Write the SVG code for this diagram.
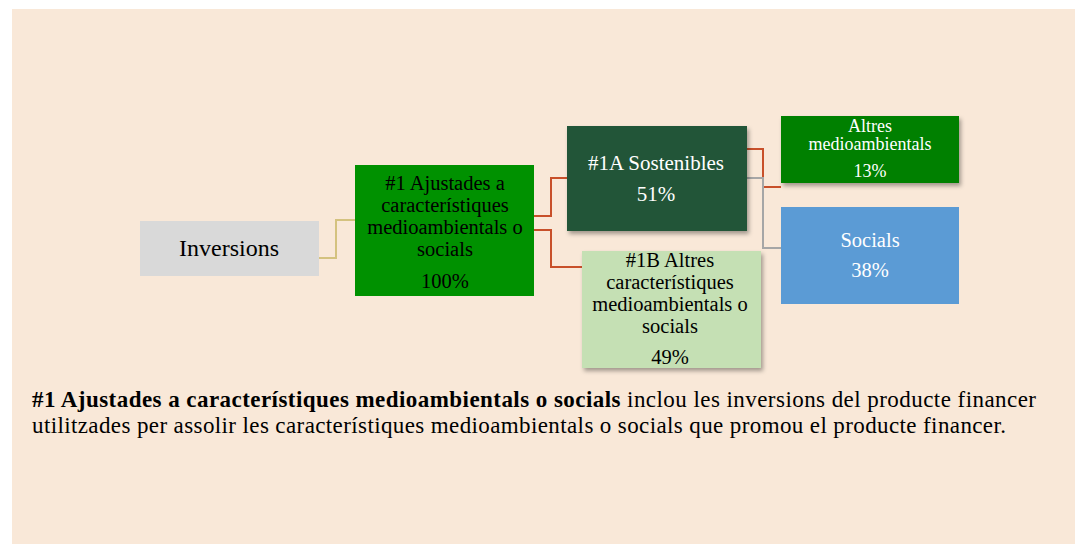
<svg xmlns="http://www.w3.org/2000/svg" width="1075" height="544" viewBox="0 0 1075 544">
<defs>
<filter id="sh" x="-10%" y="-10%" width="125%" height="130%">
<feDropShadow dx="2" dy="3" stdDeviation="2" flood-color="#000" flood-opacity="0.35"/>
</filter>
<style>
text{font-family:"Liberation Serif","Times New Roman",serif;text-anchor:middle}
.b{fill:#000}
.w{fill:#fff}
.c{fill:none;stroke-width:2}
.cap{text-anchor:start;font-size:23px}
</style>
</defs>
<rect x="12" y="9" width="1063" height="535" fill="#f9e8d8"/>
<g id="connectors">
<polyline class="c" stroke="#d4c27f" points="319,258 336,258 336,220 355,220"/>
<polyline class="c" stroke="#c8502a" points="534,216 551,216 551,178 567,178"/>
<polyline class="c" stroke="#c8502a" points="534,230 551,230 551,267 582,267"/>
<polyline class="c" stroke="#c8502a" points="747,149 763,149 763,187 781,187"/>
<polyline class="c" stroke="#a6a6a6" points="747,178 763,178 763,248 781,248"/>
</g>
<g id="n-inversions">
<rect x="140" y="221" width="179" height="55" fill="#d9d9d9"/>
<text x="229" y="256" font-size="24" class="b">Inversions</text>
</g>
<g id="n-1">
<rect x="355" y="165" width="179" height="131" fill="#009100"/>
<text font-size="20.5" class="b"><tspan x="445" y="190">#1 Ajustades a</tspan><tspan x="445" y="212">característiques</tspan><tspan x="445" y="234">medioambientals o</tspan><tspan x="445" y="256">socials</tspan><tspan x="445" y="288">100%</tspan></text>
</g>
<g id="n-1a">
<rect x="567" y="126" width="180" height="105" fill="#245439" filter="url(#sh)"/>
<text font-size="21" class="w"><tspan x="656" y="170">#1A Sostenibles</tspan><tspan x="656" y="201">51%</tspan></text>
</g>
<g id="n-1b">
<rect x="582" y="251" width="179" height="117" fill="#c5e0b4" filter="url(#sh)"/>
<text font-size="20.5" class="b"><tspan x="670" y="267">#1B Altres</tspan><tspan x="670" y="289">característiques</tspan><tspan x="670" y="311">medioambientals o</tspan><tspan x="670" y="333">socials</tspan><tspan x="670" y="364">49%</tspan></text>
</g>
<g id="n-altres">
<rect x="781" y="116" width="178" height="67" fill="#008000" filter="url(#sh)"/>
<text font-size="18" class="w"><tspan x="870" y="132">Altres</tspan><tspan x="870" y="150">medioambientals</tspan><tspan x="870" y="177">13%</tspan></text>
</g>
<g id="n-socials">
<rect x="781" y="207" width="178" height="97" fill="#5b9bd5"/>
<text font-size="20.5" class="w"><tspan x="870" y="247">Socials</tspan><tspan x="870" y="277">38%</tspan></text>
</g>
<g id="caption">
<text x="32" y="407" class="cap b" textLength="1004" lengthAdjust="spacing"><tspan font-weight="bold">#1 Ajustades a característiques medioambientals o socials</tspan> inclou les inversions del producte financer</text>
<text x="32" y="433" class="cap b" textLength="974" lengthAdjust="spacing">utilitzades per assolir les característiques medioambientals o socials que promou el producte financer.</text>
</g>
</svg>
